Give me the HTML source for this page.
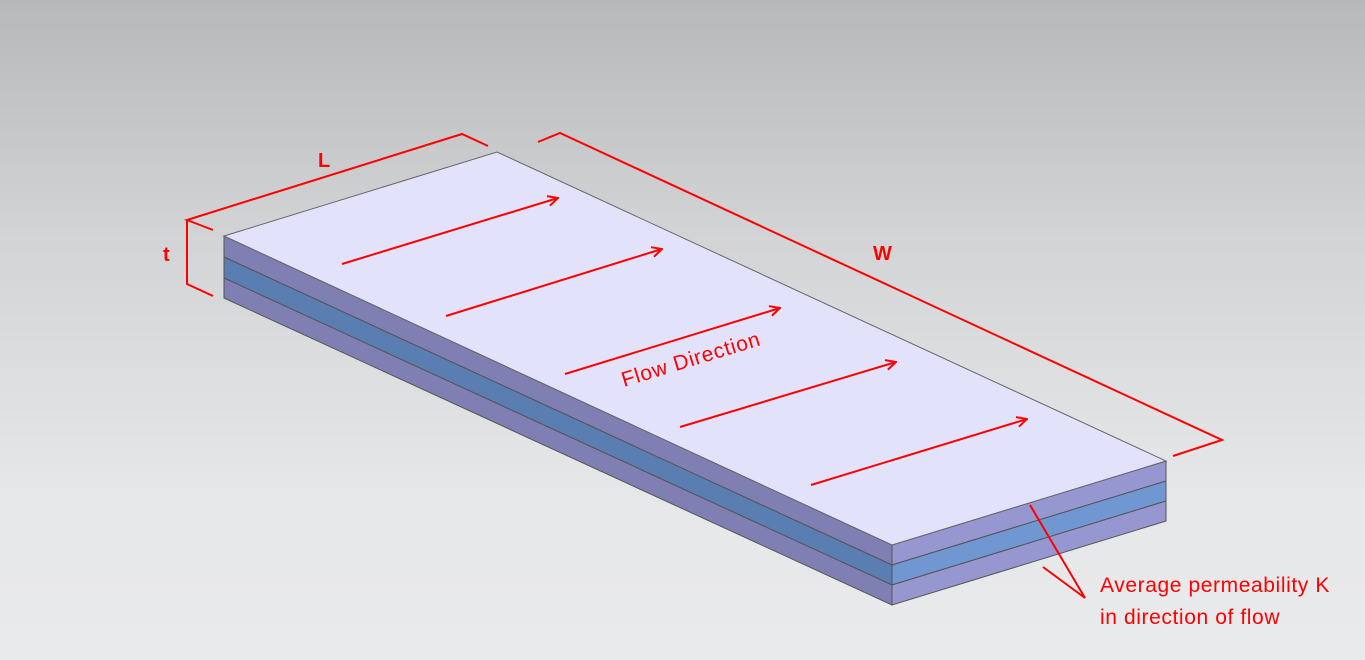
<!DOCTYPE html>
<html><head><meta charset="utf-8"><style>
html,body{margin:0;padding:0;width:1365px;height:660px;overflow:hidden}
body{background:linear-gradient(#b7b8ba 0%,#d2d3d5 35%,#e6e7e9 75%,#e9eaec 100%);font-family:"Liberation Sans",sans-serif}
</style></head><body>
<svg width="1365" height="660" viewBox="0 0 1365 660" xmlns="http://www.w3.org/2000/svg">
<defs><marker id="ah" markerWidth="12" markerHeight="12" refX="11" refY="6" orient="auto" markerUnits="userSpaceOnUse"><path d="M1,1 L11,6 L1,11" fill="none" stroke="#f00" stroke-width="2"/></marker></defs>
<polygon points="224,236 892,545 892,565 224,257" fill="#7f7fb3" stroke="#555" stroke-width="1"/>
<polygon points="224,257 892,565 892,585 224,278" fill="#5a7db2" stroke="#555" stroke-width="1"/>
<polygon points="224,278 892,585 892,605 224,298" fill="#7f7fb3" stroke="#555" stroke-width="1"/>
<polygon points="892,545 1166,461 1166,481 892,565" fill="#9696d0" stroke="#555" stroke-width="1"/>
<polygon points="892,565 1166,481 1166,501 892,585" fill="#7097d2" stroke="#555" stroke-width="1"/>
<polygon points="892,585 1166,501 1166,521 892,605" fill="#9696d0" stroke="#555" stroke-width="1"/>
<polygon points="224,236 497,152 1166,461 892,545" fill="#e2e2fb" stroke="#666" stroke-width="1"/>
<g stroke="#f00" stroke-width="2" fill="none">
<polyline points="213,230 187,220 462,134 488,146"/>
<polyline points="187,220 187,284 213,296"/>
<polyline points="538,142 560,133 1222,440 1173,456"/>
<line x1="342" y1="264" x2="558" y2="198" marker-end="url(#ah)"/>
<line x1="446" y1="316" x2="662" y2="249" marker-end="url(#ah)"/>
<line x1="565" y1="374" x2="780" y2="308" marker-end="url(#ah)"/>
<line x1="680" y1="427" x2="896" y2="362" marker-end="url(#ah)"/>
<line x1="811" y1="485" x2="1027" y2="419" marker-end="url(#ah)"/>
<polyline points="1030,505 1085,598 1043,567"/>
</g>
<g fill="#f00" font-family="Liberation Sans, sans-serif">
<text x="318" y="167" font-size="20" font-weight="bold">L</text>
<text x="163" y="261" font-size="20" font-weight="bold">t</text>
<text x="873" y="260" font-size="20" font-weight="bold">W</text>
<text x="0" y="0" font-size="21" letter-spacing="0.8" transform="translate(624,387) rotate(-17)">Flow Direction</text>
<text x="1100" y="592" font-size="21" letter-spacing="0.6">Average permeability K</text>
<text x="1100" y="624" font-size="21" letter-spacing="0.6">in direction of flow</text>
</g>
</svg>
</body></html>
